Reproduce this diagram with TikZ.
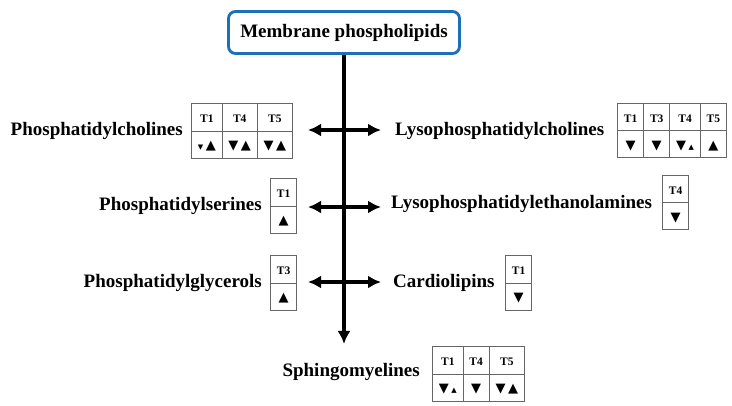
\documentclass[tikz,border=0pt]{standalone}
\usepackage{fontspec}
\setmainfont{Liberation Serif}
\newfontfamily\symfont{DejaVu Sans}
\usepackage{colortbl}
\usetikzlibrary{arrows.meta}

\definecolor{boxblue}{RGB}{28,112,184}
\setlength{\tabcolsep}{6pt}
\setlength{\arrayrulewidth}{0.7pt}
\renewcommand{\arraystretch}{1.9}
\arrayrulecolor{black!60}

% triangles in the cells
\newcommand{\Up}{{\symfont\fontsize{13}{13}\selectfont ▲}}
\newcommand{\Dn}{{\symfont\fontsize{13}{13}\selectfont ▼}}
\newcommand{\up}{{\symfont\fontsize{7}{7}\selectfont ▲}}
\newcommand{\dn}{{\symfont\fontsize{7}{7}\selectfont ▼}}
\newcommand{\gap}{\hspace{2.5pt}}

\begin{document}
\begin{tikzpicture}[x=1pt, y=-1pt]
	\tikzset{
		topbox/.style={draw=boxblue, line width=2.8pt, rounded corners=7pt, minimum width=231pt, minimum height=42pt, font=\bfseries\fontsize{19}{22}\selectfont},
		lipid/.style={inner sep=0pt, font=\bfseries\fontsize{19}{22}\selectfont},
		tab/.style={inner sep=0pt, font=\bfseries\fontsize{11.5}{14}\selectfont},
		flow/.style={line width=3.2pt, -{Latex[length=13pt,width=13pt]}},
		both/.style={line width=3.2pt, {Latex[length=13pt,width=13pt]}-{Latex[length=13pt,width=13pt]}}
	}
	\useasboundingbox (0,0) rectangle (732,406);
	
	% Top
	\node[topbox] (mp) at (344,32.5) {Membrane phospholipids};
	\coordinate (smtip) at (344,344);
	\draw[flow] (mp.south) -- (smtip);
	
	% Row 1
	\node[lipid, anchor=east] (pc) at (183,131) {Phosphatidylcholines};
	\node[tab, anchor=west] (pctab) at (191,131) {\begin{tabular}{|c|c|c|}\hline
		T1 & T4 & T5\\\hline
		\dn\gap\Up & \Dn\gap\Up & \Dn\gap\Up\\\hline
	\end{tabular}};
	\node[lipid, anchor=west] (lpc) at (395,131) {Lysophosphatidylcholines};
	\node[tab, anchor=west] (lpctab) at (617,130.5) {\begin{tabular}{|c|c|c|c|}\hline
		T1 & T3 & T4 & T5\\\hline
		\Dn & \Dn & \Dn\gap\up & \Up\\\hline
	\end{tabular}};
	\coordinate (pcl) at (308,130);
	\coordinate (pcr) at (381,130);
	\draw[both] (pcl) -- (pcr);
	
	% Row 2
	\node[lipid, anchor=east] (ps) at (262,206) {Phosphatidylserines};
	\node[tab, anchor=west] (pstab) at (270,206) {\begin{tabular}{|c|}\hline
		T1\\\hline
		\Up\\\hline
	\end{tabular}};
	\node[lipid, anchor=west] (lpe) at (391,204) {Lysophosphatidylethanolamines};
	\node[tab, anchor=west] (lpetab) at (662,202.5) {\begin{tabular}{|c|}\hline
		T4\\\hline
		\Dn\\\hline
	\end{tabular}};
	\coordinate (psl) at (308,207);
	\coordinate (psr) at (381,207);
	\draw[both] (psl) -- (psr);
	
	% Row 3
	\node[lipid, anchor=east] (pg) at (262,283) {Phosphatidylglycerols};
	\node[tab, anchor=west] (pgtab) at (270,283) {\begin{tabular}{|c|}\hline
		T3\\\hline
		\Up\\\hline
	\end{tabular}};
	\node[lipid, anchor=west] (cl) at (393,283) {Cardiolipins};
	\node[tab, anchor=west] (cltab) at (505,283) {\begin{tabular}{|c|}\hline
		T1\\\hline
		\Dn\\\hline
	\end{tabular}};
	\coordinate (pgl) at (308,282);
	\coordinate (pgr) at (381,282);
	\draw[both] (pgl) -- (pgr);
	
	% Bottom
	\node[lipid, anchor=east] (sm) at (420,372) {Sphingomyelines};
	\node[tab, anchor=west] (smtab) at (432,374) {\begin{tabular}{|c|c|c|}\hline
		T1 & T4 & T5\\\hline
		\Dn\gap\up & \Dn & \Dn\gap\Up\\\hline
	\end{tabular}};
\end{tikzpicture}
\end{document}
